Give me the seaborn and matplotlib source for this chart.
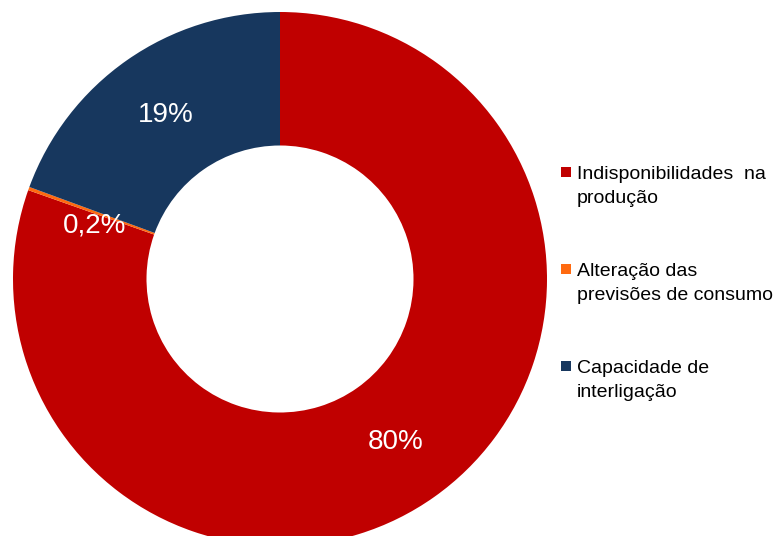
import matplotlib
matplotlib.use("Agg")
import matplotlib.pyplot as plt
from matplotlib.patches import Rectangle
import seaborn as sns

categories = ["Indisponibilidades  na\nprodução",
              "Alteração das\nprevisões de consumo",
              "Capacidade de\ninterligação"]
shares = [80.4, 0.2, 19.4]
colors = ["#C00000", "#FF6A10", "#17375E"]

sns.set_theme(style="white")
plt.rcParams["font.family"] = ["Liberation Sans", "DejaVu Sans"]

W, H = 781, 536
fig = plt.figure(figsize=(W / 100, H / 100), dpi=100)
fig.patch.set_facecolor("white")

# donut axes: centre (280, 279) px from top-left, outer radius 267 px
r_px, cx, cy = 267, 280, 279
ax = fig.add_axes([(cx - r_px) / W, (H - cy - r_px) / H, 2 * r_px / W, 2 * r_px / H])


def fmt(p):
    if p < 1:
        return f"{p:.1f}".replace(".", ",") + "%"
    return f"{p:.0f}%"


wedges, _, autotexts = ax.pie(
    shares, colors=colors, startangle=90, counterclock=False,
    radius=1.0, wedgeprops=dict(width=0.5, edgecolor="none"),
    autopct=fmt, pctdistance=0.75,
    textprops=dict(color="white", fontsize=20),
)
# nudge the label of the thin slice so it sits on the red ring
for share, t in zip(shares, autotexts):
    if share < 1:
        x, y = t.get_position()
        t.set_position((x + 0.01, y - 0.055))
ax.set_xlim(-1, 1)
ax.set_ylim(-1, 1)
ax.set_aspect("equal")
ax.axis("off")

# legend drawn as square markers with two-line labels
first_line_px = 172
row_step_px = 97
line_step_px = 24
for i, (label, color) in enumerate(zip(categories, colors)):
    yc = first_line_px + i * row_step_px
    fig.patches.append(Rectangle(((561) / W, 1 - (yc + 5) / H), 10 / W, 10 / H,
                                 transform=fig.transFigure, facecolor=color,
                                 edgecolor="none"))
    for j, line in enumerate(label.split("\n")):
        fig.text(577 / W, 1 - (yc + 7 + j * line_step_px) / H, line,
                 fontsize=14, color="black", ha="left", va="baseline")

fig.savefig("out.png", dpi=100, facecolor="white")
